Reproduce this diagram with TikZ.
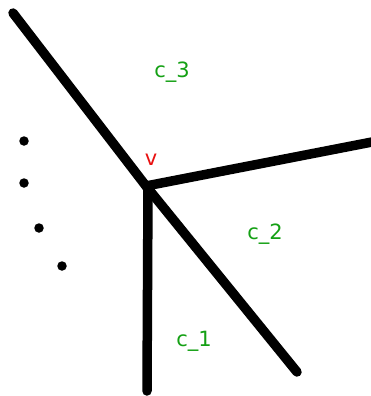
\documentclass[tikz,border=0pt]{standalone}
\usepackage{fontspec}
\setmainfont{DejaVu Sans}
\usetikzlibrary{positioning}
\definecolor{lblgreen}{HTML}{14A014}
\definecolor{lblred}{HTML}{E81010}

\begin{document}
\begin{tikzpicture}[x=1pt,y=-1pt]
  \tikzset{
    edge/.style={line width=9.5pt,line cap=round,black},
    region/.style={font=\fontsize{21}{24}\selectfont,text=lblgreen,inner sep=0pt},
    dot/.style={circle,fill=black,minimum size=9.5pt,inner sep=0pt}
  }
  \useasboundingbox (0,0) rectangle (371,396);
  % vertex and free ends of the edges
  \coordinate (v) at (146,186);
  \coordinate (endNW) at (13,13);
  \coordinate (endSE) at (297,372);
  \coordinate (endE) at (372,142);
  \coordinate (endS) at (147,391);
  \draw[edge] (endNW) -- (v);
  \draw[edge] (v) -- (endSE);
  \draw[edge] (v) -- (endE);
  \draw[edge] (148,188) -- (endS);
  \node[font=\fontsize{21}{24}\selectfont,text=lblred,inner sep=0pt] (vlab) at (151,160) {v};
  \node[region] (c3) at (172,72) {c\_3};
  \node[region] (c2) at (265,234) {c\_2};
  \node[region] (c1) at (194,341) {c\_1};
  % dots
  \foreach \px/\py [count=\i] in {24/141, 24/183, 39/228, 62/266}
    \node[dot] (d\i) at (\px,\py) {};
\end{tikzpicture}
\end{document}
